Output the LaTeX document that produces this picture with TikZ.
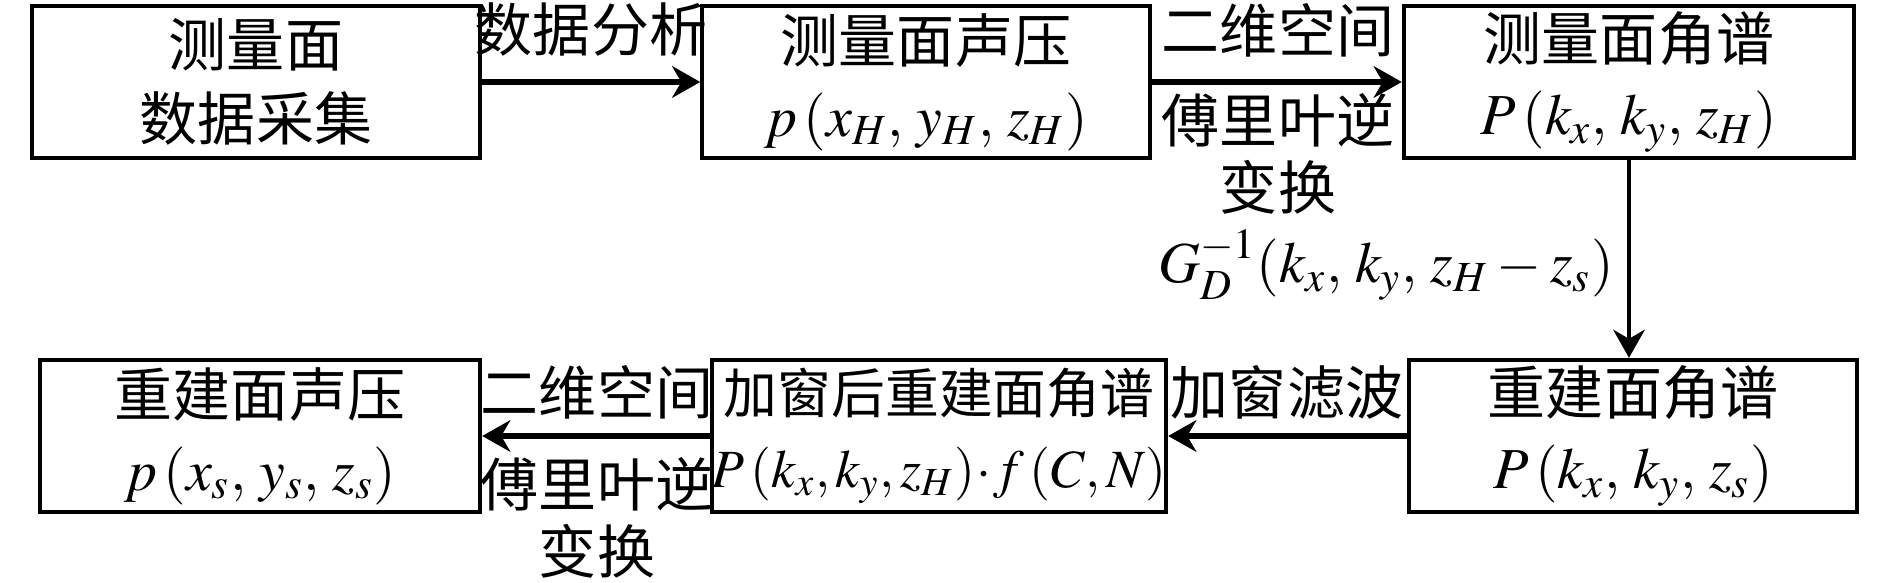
\documentclass[tikz,border=0pt]{standalone}
\usepackage{mathptmx}
\usepackage{fontspec}
\setmainfont{Liberation Serif}
\newfontfamily\cjk{Noto Sans CJK SC}
\usetikzlibrary{arrows.meta,positioning}

\tikzset{
  blk/.style={draw, line width=1.2pt, minimum width=4.47cm, minimum height=1.52cm, inner sep=0pt, align=center},
  arr/.style={-{Stealth[length=8pt,width=9pt]}, line width=1.5pt},
  lbl/.style={align=center, inner sep=0pt}
}

\begin{document}
\begin{tikzpicture}[x=0.01cm, y=-0.01cm, font=\cjk\fontsize{16.5}{21}\selectfont]
    \useasboundingbox (0,0) rectangle (1890,583);

    % top row
    \node[blk] (meas) at (256,82) {测量面\\数据采集};
    \node[blk] (pH) at (926,82) {测量面声压\\$p\,(x_H,\, y_H,\, z_H)$};
    \node[blk, minimum width=4.5cm] (PH) at (1629,82) {测量面角谱\\$P\,(k_x,\, k_y,\, z_H)$};

    % bottom row
    \node[blk] (Ps) at (1633,436) {重建面角谱\\$P\,(k_x,\, k_y,\, z_s)$};
    \node[blk, minimum width=4.48cm, font=\cjk\fontsize{15.3}{21}\selectfont] (Pw) at (939,436) {加窗后重建面角谱\\$P\,(k_x, k_y, z_H)\!\cdot\! f\,(C, N)$};
    \node[blk, minimum width=4.4cm] (ps) at (260,436) {重建面声压\\$p\,(x_s,\, y_s,\, z_s)$};

    % arrows
    \draw[arr] (meas) -- (pH);
    \draw[arr] (pH) -- (PH);
    \draw[arr, line width=1pt] (PH.south) -- (PH.south |- Ps.north);
    \draw[arr] (Ps) -- (Pw);
    \draw[arr] (Pw) -- (ps);

    % labels
    \node[lbl] (ana) at (591,30) {数据分析};
    \node[lbl] (ift1a) at (1278,30) {二维空间};
    \node[lbl, font=\cjk\fontsize{16.5}{19}\selectfont] (ift1b) at (1278,154) {傅里叶逆\\变换};
    \node[lbl] (gd) at (1386,265) {$G_D^{-1}(k_x,\, k_y,\, z_H - z_s)$};
    \node[lbl] (win) at (1287,392) {加窗滤波};
    \node[lbl] (ift2a) at (597,392) {二维空间};
    \node[lbl, font=\cjk\fontsize{16.5}{19}\selectfont] (ift2b) at (597,518) {傅里叶逆\\变换};
\end{tikzpicture}
\end{document}
